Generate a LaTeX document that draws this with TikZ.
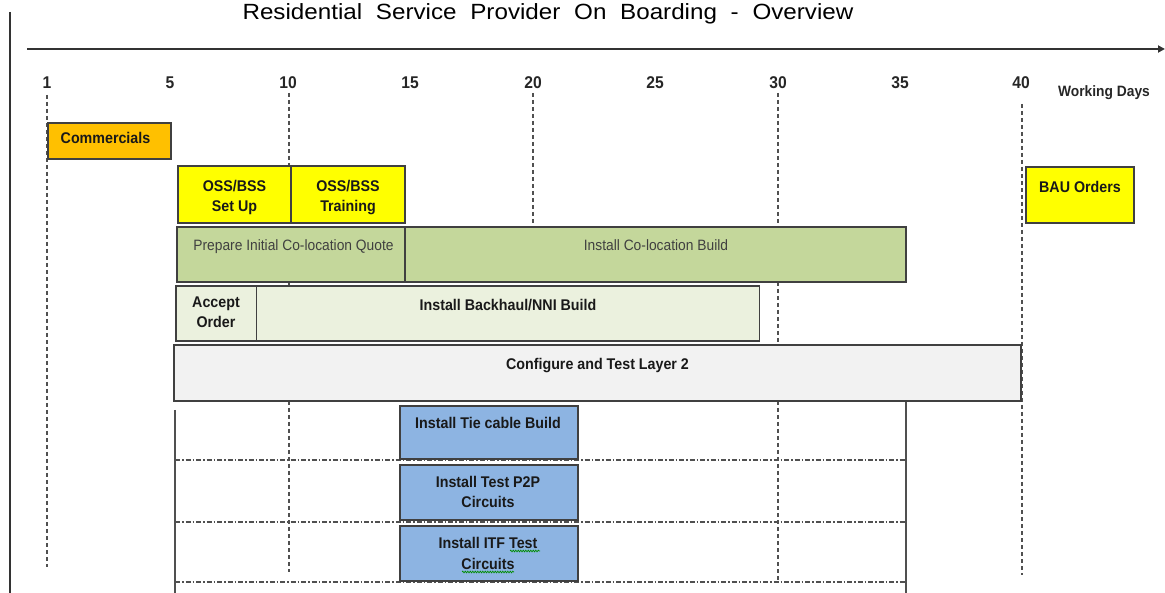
\documentclass[tikz,border=0pt]{standalone}
\usepackage{fontspec}
\setmainfont{Liberation Sans}
\newfontfamily\titlefont{Liberation Sans}[FakeStretch=1.1]
\newfontfamily\lblfont{Liberation Sans}[FakeStretch=0.92]
\usetikzlibrary{arrows.meta,shadows,decorations.pathmorphing}
\definecolor{cOrange}{HTML}{FFC000}
\definecolor{cYellow}{HTML}{FFFF00}
\definecolor{cGreen}{HTML}{C4D79B}
\definecolor{cLGreen}{HTML}{EBF1DE}
\definecolor{cGrey}{HTML}{F2F2F2}
\definecolor{cBlue}{HTML}{8DB4E2}
\definecolor{cBorder}{HTML}{404040}
\definecolor{cLine}{HTML}{505050}
\tikzset{
  box/.style={draw=cBorder, line width=1.3pt, inner sep=0pt, outer sep=0pt, anchor=north west,
    drop shadow={shadow xshift=0.6pt, shadow yshift=-1.2pt, fill=black!55, opacity=0.8}},
  lbl/.style={font=\lblfont\bfseries\fontsize{15.5pt}{20.5pt}\selectfont, text=black!90, inner sep=0pt, align=center, anchor=base},
  lblr/.style={font=\lblfont\fontsize{15pt}{20pt}\selectfont, text=black!75, inner sep=0pt, anchor=base},
  tick/.style={font=\lblfont\bfseries\fontsize{17pt}{17pt}\selectfont, text=black!85, inner sep=0pt, anchor=base},
  grid/.style={draw=cLine, line width=1.2pt, dash pattern=on 4pt off 3pt},
  dashdot/.style={draw=cLine, line width=1.2pt, dash pattern=on 5pt off 2pt on 1.5pt off 2pt},
  solidv/.style={draw=cLine, line width=1.3pt},
  squiggle/.style={draw=green!55!black, line width=0.7pt, decorate,
    decoration={snake, amplitude=0.8pt, segment length=2.5pt}}
}
\begin{document}
\begin{tikzpicture}[x=1pt,y=-1pt]
\useasboundingbox (0,0) rectangle (1165,593);
% title
\node[font=\titlefont\fontsize{22pt}{22pt}\selectfont, text=black, inner sep=0pt, anchor=base] (title) at (548,20)
  {Residential\hspace{7pt} Service\hspace{7pt} Provider\hspace{7pt} On\hspace{7pt} Boarding\hspace{7pt} -\hspace{7pt} Overview};
% frame lines
\draw[line width=1.3pt, draw=black!80] (10,12) -- (10,593);
\draw[line width=2pt, draw=black!80, -{Triangle[length=7pt,width=7pt]}] (27,49) -- (1165,49);
% ticks
\node[tick] (d1) at (47,89) {1};
\node[tick] (d5) at (170,89) {5};
\node[tick] (d10) at (288,89) {10};
\node[tick] (d15) at (410,89) {15};
\node[tick] (d20) at (533,89) {20};
\node[tick] (d25) at (655,89) {25};
\node[tick] (d30) at (778,89) {30};
\node[tick] (d35) at (900,89) {35};
\node[tick] (d40) at (1021,89) {40};
\node[font=\lblfont\bfseries\fontsize{15pt}{15pt}\selectfont, text=black!85, inner sep=0pt, anchor=base] (wd) at (1104,97) {Working Days};
% grid lines
\draw[grid] (47,95) -- (47,567);
\draw[grid] (289,93) -- (289,572);
\draw[grid] (533,93) -- (533,225);
\draw[grid] (778,93) -- (778,580);
\draw[grid] (1022,104) -- (1022,575);
% lower lane lines
\draw[solidv] (175,410) -- (175,593);
\draw[solidv] (906,401) -- (906,593);
\draw[dashdot] (175,460) -- (906,460);
\draw[dashdot] (175,522) -- (906,522);
\draw[dashdot] (175,582) -- (906,582);
% boxes
\node[box, fill=cOrange, minimum width=123pt, minimum height=36pt] (comm) at (48,123) {};
\node[box, fill=cYellow, minimum width=113pt, minimum height=57pt] (oss1) at (178,166) {};
\node[box, fill=cYellow, minimum width=114pt, minimum height=57pt] (oss2) at (291,166) {};
\node[box, fill=cYellow, minimum width=108pt, minimum height=56pt] (bau) at (1026,167) {};
\node[box, fill=cGreen, minimum width=228pt, minimum height=55pt] (prep) at (177,227) {};
\node[box, fill=cGreen, minimum width=501pt, minimum height=55pt] (coloc) at (405,227) {};
\node[box, fill=cLGreen, minimum width=80.5pt, minimum height=55pt] (accept) at (176,286) {};
\node[box, fill=cLGreen, minimum width=503pt, minimum height=55pt] (backhaul) at (256.5,286) {};
\node[box, fill=cGrey, minimum width=847pt, minimum height=56pt] (config) at (174,345) {};
\node[box, fill=cBlue, minimum width=178pt, minimum height=53pt] (tie) at (400,406) {};
\node[box, fill=cBlue, minimum width=178pt, minimum height=55pt] (p2p) at (400,465) {};
\node[box, fill=cBlue, minimum width=178pt, minimum height=55pt] (itf) at (400,526) {};
% labels (anchor=base is the baseline of the last line)
\node[lbl] (tcomm) at (105.5,143.5) {Commercials};
\node[lbl] (toss1) at (234.5,212) {OSS/BSS\\Set Up};
\node[lbl] (toss2) at (348,212) {OSS/BSS\\Training};
\node[lbl] (tbau) at (1080,193) {BAU Orders};
\node[lblr] (tprep) at (293.5,251) {Prepare Initial Co-location Quote};
\node[lblr] (tcoloc) at (656,251) {Install Co-location Build};
\node[lbl] (taccept) at (216,328) {Accept\\Order};
\node[lbl] (tback) at (508,310.5) {Install Backhaul/NNI Build};
\node[lbl] (tconfig) at (597.5,369.5) {Configure and Test Layer 2};
\node[lbl] (ttie) at (488,428.5) {Install Tie cable Build};
\node[lbl] (tp2p) at (488,507.5) {Install Test P2P\\Circuits};
\node[lbl] (titf) at (488,569) {Install ITF Test\\Circuits};
% spell-check squiggles
\draw[squiggle] (510,551) -- (540,551);
\draw[squiggle] (462,572) -- (514,572);
\end{tikzpicture}
\end{document}
